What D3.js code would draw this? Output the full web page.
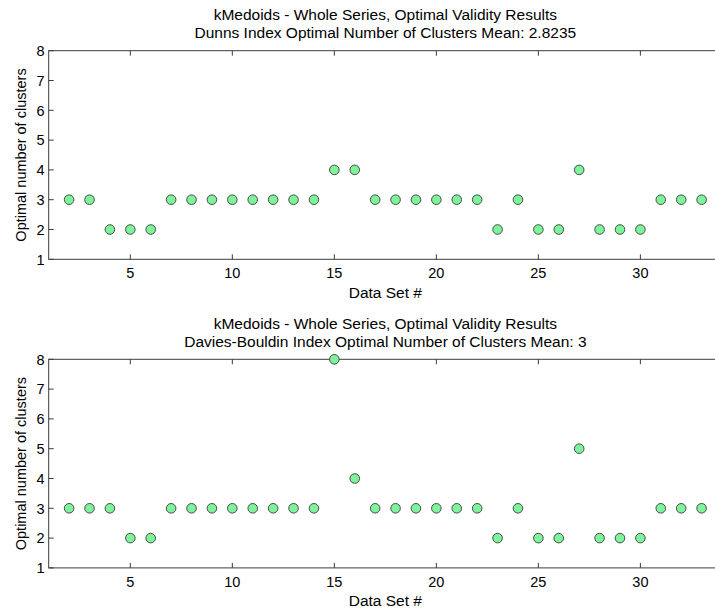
<!DOCTYPE html>
<html>
<head>
  <meta charset="utf-8">
  <title>kMedoids optimal validity results</title>
  <script src="https://d3js.org/d3.v7.min.js"></script>
  <style>
    body { margin: 0; background: #fff; }
    svg { display: block; overflow: hidden; }
    text { font-family: "Liberation Sans", Arial, sans-serif; fill: #000; }
  </style>
</head>
<body>
<script>

var dataSets = [2,3,4,5,6,7,8,9,10,11,12,13,14,15,16,17,18,19,20,21,22,23,24,25,26,27,28,29,30,31,32,33];
var dunns    = [3,3,2,2,2,3,3,3,3,3,3,3,3,4,4,3,3,3,3,3,3,2,3,2,2,4,2,2,2,3,3,3];
var davies   = [3,3,3,2,2,3,3,3,3,3,3,3,3,8,4,3,3,3,3,3,3,2,3,2,2,5,2,2,2,3,3,3];
var xTicks = [5,10,15,20,25,30];
var yTicks = [1,2,3,4,5,6,7,8];

var panels = [
  {title: ["kMedoids - Whole Series, Optimal Validity Results", "Dunns Index Optimal Number of Clusters Mean: 2.8235"], values: dunns, top: 50.7},
  {title: ["kMedoids - Whole Series, Optimal Validity Results", "Davies-Bouldin Index Optimal Number of Clusters Mean: 3"], values: davies, top: 359.3}
];

var svgWidth = 715, svgHeight = 612;
var left = 48.7, right = 722, plotH = 208.6;

var svg = d3.select('body').append('svg')
    .attr('width', svgWidth)
    .attr('height', svgHeight);

var x = d3.scaleLinear().domain([1, 34]).range([left, right]);

panels.forEach(function(p) {
  var y = d3.scaleLinear().domain([1, 8]).range([p.top + plotH, p.top]);
  var g = svg.append('g');
  var axisColor = '#3c3c3c';

  // box
  g.append('rect')
      .attr('x', left).attr('y', p.top)
      .attr('width', right - left).attr('height', plotH)
      .attr('fill', 'none').attr('stroke', axisColor).attr('stroke-width', 1);

  // ticks (inward, bottom + top + left)
  xTicks.forEach(function(t) {
    g.append('line').attr('x1', x(t)).attr('x2', x(t))
      .attr('y1', p.top + plotH).attr('y2', p.top + plotH - 5)
      .attr('stroke', axisColor);
    g.append('line').attr('x1', x(t)).attr('x2', x(t))
      .attr('y1', p.top).attr('y2', p.top + 5)
      .attr('stroke', axisColor);
    g.append('text').attr('x', x(t)).attr('y', p.top + plotH + 19)
      .attr('text-anchor', 'middle').style('font-size', '14.5px').text(t);
  });
  yTicks.forEach(function(t) {
    g.append('line').attr('x1', left).attr('x2', left + 5)
      .attr('y1', y(t)).attr('y2', y(t))
      .attr('stroke', axisColor);
    g.append('text').attr('x', left - 4).attr('y', y(t)).attr('dy', '0.36em')
      .attr('text-anchor', 'end').style('font-size', '14.5px').text(t);
  });

  // titles
  g.append('text').attr('x', (left + right) / 2).attr('y', p.top - 30.5)
    .attr('text-anchor', 'middle').style('font-size', '15.5px').text(p.title[0]);
  g.append('text').attr('x', (left + right) / 2).attr('y', p.top - 12.5)
    .attr('text-anchor', 'middle').style('font-size', '15.5px').text(p.title[1]);

  // axis labels
  g.append('text').attr('x', (left + right) / 2).attr('y', p.top + plotH + 38.5)
    .attr('text-anchor', 'middle').style('font-size', '15.5px').text('Data Set #');
  g.append('text')
    .attr('transform', 'translate(26,' + (p.top + plotH / 2) + ') rotate(-90)')
    .attr('text-anchor', 'middle').style('font-size', '14.5px').text('Optimal number of clusters');

  // markers
  g.selectAll('circle')
    .data(dataSets.map(function(d, i) { return {x: d, y: p.values[i]}; }))
    .enter().append('circle')
      .attr('cx', function(d) { return x(d.x); })
      .attr('cy', function(d) { return y(d.y); })
      .attr('r', 4.8)
      .attr('fill', '#7ff39b')
      .attr('stroke', '#3a3a3a')
      .attr('stroke-width', 0.9);
});

</script>
</body>
</html>
